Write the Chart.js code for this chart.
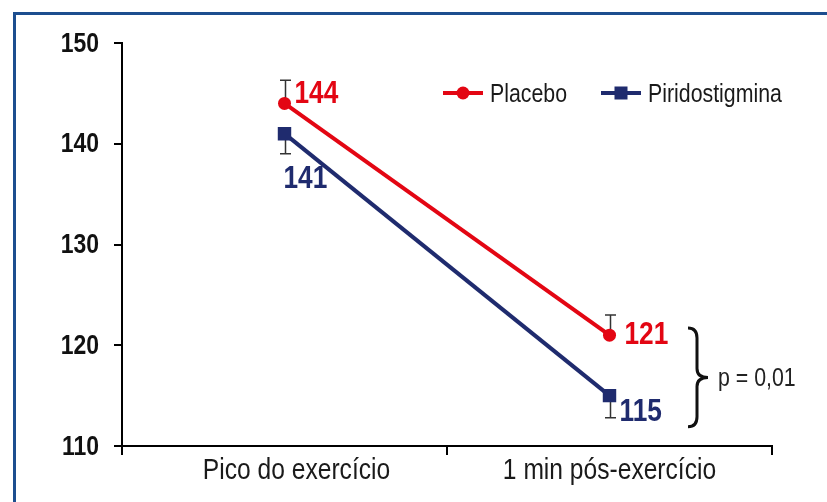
<!DOCTYPE html>
<html>
<head>
<meta charset="utf-8">
<script src="https://cdn.jsdelivr.net/npm/chart.js@4.4.1/dist/chart.umd.min.js"></script>
<style>
  html, body { margin: 0; padding: 0; background: #ffffff; }
  canvas { display: block; }
</style>
</head>
<body>
<canvas id="chart" width="827" height="502"></canvas>
<script>
// Heart rate at peak exercise and 1 minute after, by treatment group
const categories = ['Pico do exercício', '1 min pós-exercício'];
const seriesNames = ['Placebo', 'Piridostigmina'];
const placebo = [144, 121];
const placeboErr = [2.3, 2.0];
const piridostigmina = [141, 115];
const piridostigminaErr = [2.0, 2.2];
const yTicks = [110, 120, 130, 140, 150];
const pValueText = 'p = 0,01';

const FONT = "'Liberation Sans', Arial, sans-serif";
const NARROW = 0.82;           // horizontal squeeze giving a condensed face
const RED = '#e30613';
const NAVY = '#1f2b6e';

// Draw text horizontally condensed around its anchor point
function narrowText(ctx, text, x, y, align, font, color) {
  ctx.save();
  ctx.translate(x, y);
  ctx.scale(NARROW, 1);
  ctx.font = font;
  ctx.fillStyle = color;
  ctx.textAlign = align;
  ctx.textBaseline = 'middle';
  ctx.fillText(text, 0, 0);
  ctx.restore();
}

// Frame, axis labels, error bars, value labels, legend and the significance brace
const decor = {
  id: 'decor',
  beforeDraw(chart) {
    const ctx = chart.ctx;
    ctx.save();
    ctx.strokeStyle = '#1d4e8f';
    ctx.lineWidth = 3;
    ctx.beginPath();
    ctx.moveTo(14.5, chart.height);
    ctx.lineTo(14.5, 13.5);
    ctx.lineTo(chart.width, 13.5);
    ctx.stroke();
    ctx.restore();
  },
  afterDraw(chart, args, opts) {
    const ctx = chart.ctx;
    const xs = chart.scales.x;
    const ys = chart.scales.y;
    // y tick labels
    ys.ticks.forEach(t => {
      narrowText(ctx, String(t.value), ys.right - 8 - 15, ys.getPixelForValue(t.value) + 1,
        'right', 'bold 28px ' + FONT, '#111111');
    });
    // category labels
    chart.data.labels.forEach((lab, i) => {
      narrowText(ctx, lab, xs.getPixelForTick(i) + opts.categoryShift[i], xs.top + 25,
        'center', '30px ' + FONT, '#1a1a1a');
    });
  },
  beforeDatasetsDraw(chart) {
    const ctx = chart.ctx;
    const ys = chart.scales.y;
    ctx.save();
    ctx.strokeStyle = '#333333';
    ctx.lineWidth = 1.5;
    chart.data.datasets.forEach((ds, di) => {
      const meta = chart.getDatasetMeta(di);
      meta.data.forEach((pt, i) => {
        const end = ys.getPixelForValue(ds.data[i] + ds.errDir * ds.err[i]);
        const x = Math.round(pt.x) + 0.5;
        ctx.beginPath();
        ctx.moveTo(x, pt.y);
        ctx.lineTo(x, end);
        ctx.moveTo(x - 5.5, end);
        ctx.lineTo(x + 5.5, end);
        ctx.stroke();
      });
    });
    ctx.restore();
  },
  afterDatasetsDraw(chart, args, opts) {
    const ctx = chart.ctx;
    const ys = chart.scales.y;
    const area = chart.chartArea;
    ctx.save();

    // value labels next to each point
    chart.data.datasets.forEach((ds, di) => {
      const meta = chart.getDatasetMeta(di);
      meta.data.forEach((pt, i) => {
        const off = opts.labelOffsets[di][i];
        narrowText(ctx, String(ds.data[i]), pt.x + off[0], pt.y + off[1],
          'left', 'bold 32px ' + FONT, ds.borderColor);
      });
    });

    // legend
    const legendY = 93;
    const items = [
      { x: 443, ds: chart.data.datasets[0] },
      { x: 601, ds: chart.data.datasets[1] }
    ];
    items.forEach(it => {
      ctx.strokeStyle = it.ds.borderColor;
      ctx.fillStyle = it.ds.borderColor;
      ctx.lineWidth = 4;
      ctx.beginPath();
      ctx.moveTo(it.x, legendY);
      ctx.lineTo(it.x + 40, legendY);
      ctx.stroke();
      const cx = it.x + 20;
      if (it.ds.pointStyle === 'circle') {
        ctx.beginPath();
        ctx.arc(cx, legendY, 6.5, 0, Math.PI * 2);
        ctx.fill();
      } else {
        ctx.fillRect(cx - 6.5, legendY - 6.5, 13, 13);
      }
      narrowText(ctx, it.ds.label, it.x + 47, legendY + 2, 'left', '26px ' + FONT, '#1a1a1a');
    });

    // brace grouping the two end values
    const yT = ys.getPixelForValue(opts.braceTop);
    const yB = ys.getPixelForValue(opts.braceBottom);
    const yM = (yT + yB) / 2;
    const xL = area.right - 84, xM = area.right - 75, xR = area.right - 64;
    ctx.strokeStyle = '#111111';
    ctx.lineWidth = 3;
    ctx.beginPath();
    ctx.moveTo(xL, yT);
    ctx.quadraticCurveTo(xM, yT, xM, yT + 10);
    ctx.lineTo(xM, yM - 9);
    ctx.quadraticCurveTo(xM, yM, xR, yM);
    ctx.quadraticCurveTo(xM, yM, xM, yM + 9);
    ctx.lineTo(xM, yB - 10);
    ctx.quadraticCurveTo(xM, yB, xL, yB);
    ctx.stroke();

    narrowText(ctx, pValueText, area.right - 54, yM + 1, 'left', '26px ' + FONT, '#222222');
    ctx.restore();
  }
};

new Chart(document.getElementById('chart'), {
  type: 'line',
  data: {
    labels: categories,
    datasets: [
      {
        label: seriesNames[0],
        data: placebo,
        err: placeboErr,
        errDir: 1,
        borderColor: RED,
        backgroundColor: RED,
        pointBackgroundColor: RED,
        borderWidth: 4,
        pointStyle: 'circle',
        pointRadius: 6.5,
        pointBorderWidth: 0,
        tension: 0
      },
      {
        label: seriesNames[1],
        data: piridostigmina,
        err: piridostigminaErr,
        errDir: -1,
        borderColor: NAVY,
        backgroundColor: NAVY,
        pointBackgroundColor: NAVY,
        borderWidth: 4,
        pointStyle: 'rect',
        pointRadius: 9.5,
        pointBorderWidth: 0,
        tension: 0
      }
    ]
  },
  options: {
    responsive: false,
    animation: false,
    devicePixelRatio: 1,
    layout: { padding: { top: 43, right: 55, left: 0, bottom: 0 } },
    plugins: {
      legend: { display: false },
      tooltip: { enabled: false },
      decor: {
        labelOffsets: [
          [[10, -9], [15, 0]],
          [[-1, 45], [10, 17]]
        ],
        categoryShift: [12, 0],
        braceTop: 121.7,
        braceBottom: 111.9
      }
    },
    scales: {
      x: {
        type: 'category',
        offset: true,
        grid: { offset: true, drawOnChartArea: false, drawTicks: true, tickLength: 9, color: '#000', lineWidth: 2 },
        border: { display: true, color: '#000', width: 2 },
        ticks: { display: false },
        afterFit(s) { s.height = 56; }
      },
      y: {
        min: 110,
        max: 150,
        afterBuildTicks(s) { s.ticks = yTicks.map(v => ({ value: v })); },
        grid: { drawOnChartArea: false, drawTicks: true, tickLength: 8, color: '#000', lineWidth: 2 },
        border: { display: true, color: '#000', width: 2 },
        ticks: { display: false },
        afterFit(s) { s.width = 122; }
      }
    }
  },
  plugins: [decor]
});
</script>
</body>
</html>
